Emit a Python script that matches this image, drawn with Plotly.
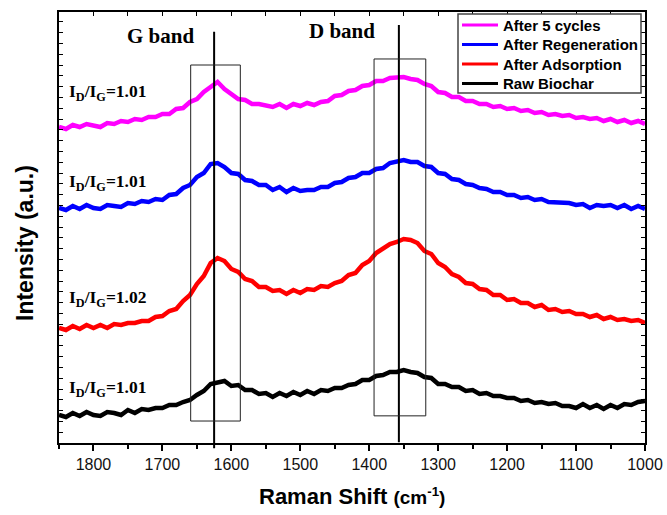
import plotly.graph_objects as go

# Raman shift grid (cm^-1), read every 10 cm^-1 from 1850 down to 1000
raman_shift = list(range(1850, 999, -10))

# Intensities (a.u.), offset stack as in the figure
raw_biochar = [28, 26, 30, 27, 31, 28, 27, 31, 30, 28,
               33, 30, 34, 33, 35, 35, 38, 38, 41, 43,
               48, 52, 59, 61, 62, 57, 58, 53, 53, 49,
               50, 46, 50, 47, 51, 48, 52, 49, 53, 52,
               55, 55, 58, 59, 63, 63, 67, 68, 71, 71,
               73, 71, 70, 66, 65, 59, 59, 56, 56, 52,
               53, 49, 50, 47, 47, 45, 45, 42, 43, 40,
               41, 39, 40, 37, 37, 35, 39, 35, 38, 34,
               38, 35, 39, 38, 41, 42]

after_adsorption = [115, 113, 117, 114, 118, 115, 118, 115, 119, 118,
                    120, 120, 122, 122, 126, 127, 132, 134, 142, 148,
                    159, 167, 180, 185, 182, 174, 171, 164, 162, 156,
                    156, 152, 153, 149, 153, 150, 154, 153, 157, 156,
                    160, 162, 168, 170, 178, 182, 190, 194, 199, 201,
                    204, 203, 200, 192, 189, 180, 176, 169, 166, 160,
                    159, 154, 153, 148, 148, 143, 144, 140, 140, 136,
                    138, 133, 134, 131, 132, 129, 129, 126, 128, 124,
                    126, 123, 124, 122, 123, 120]

after_regeneration = [235, 233, 237, 234, 238, 235, 234, 238, 237, 236,
                      240, 239, 242, 241, 244, 243, 248, 249, 255, 258,
                      266, 270, 279, 280, 276, 270, 269, 263, 262, 258,
                      258, 253, 256, 251, 255, 252, 253, 253, 256, 256,
                      260, 261, 265, 266, 270, 270, 274, 275, 280, 281,
                      283, 281, 281, 277, 276, 270, 269, 264, 263, 259,
                      258, 255, 254, 251, 251, 248, 248, 245, 246, 243,
                      244, 241, 241, 240, 240, 238, 239, 235, 238, 237,
                      238, 235, 238, 234, 237, 234]

after_5_cycles = [316, 314, 318, 316, 319, 317, 316, 320, 319, 322,
                  321, 324, 323, 326, 326, 329, 329, 334, 335, 341,
                  344, 351, 356, 361, 354, 349, 344, 343, 339, 339,
                  338, 336, 339, 335, 339, 337, 340, 338, 341, 342,
                  347, 348, 352, 353, 357, 358, 362, 362, 365, 365,
                  366, 364, 363, 359, 357, 351, 350, 346, 346, 342,
                  342, 339, 339, 336, 337, 334, 335, 332, 333, 330,
                  331, 328, 329, 327, 328, 325, 326, 324, 325, 322,
                  324, 321, 323, 320, 322, 319]

series_names = ["Raw Biochar", "After Adsorption", "After Regeneration", "After 5 cycles"]
series_colors = ["#000000", "#ff0000", "#0000ff", "#ff00ff"]
ratio_labels = ["1.01", "1.02", "1.01", "1.01"]

g_band_pos = 1625
d_band_pos = 1357
g_box = [1659, 1587]
d_box = [1393, 1318]

# plot-area geometry in pixels (for placing annotations)
L, R, T, B = 59, 645, 12, 443
W, H = R - L, B - T


def px(xp):
    return (xp - L) / W


def py(yp):
    return (B - yp) / H


fig = go.Figure()
for name, col, ys in zip(series_names, series_colors,
                         [raw_biochar, after_adsorption, after_regeneration, after_5_cycles]):
    fig.add_trace(go.Scatter(x=raman_shift, y=ys, mode="lines", name=name,
                             line=dict(color=col, width=4.5), showlegend=False))

# dummy trace for top axis ticks
fig.add_trace(go.Scatter(x=[1850, 1000], y=[None, None], xaxis="x2", showlegend=False,
                         hoverinfo="skip"))

fig.update_layout(
    width=667, height=515,
    margin=dict(l=L, r=667 - R, t=T, b=515 - B, autoexpand=False),
    paper_bgcolor="white", plot_bgcolor="white",
    showlegend=False,
    xaxis=dict(range=[1850, 1000], tickmode="linear", tick0=1000, dtick=100,
               ticks="outside", ticklen=6, tickwidth=1.5, tickcolor="black",
               minor=dict(dtick=50, ticks="outside", ticklen=4, tickcolor="black"),
               showline=True, linecolor="black", linewidth=1.5, mirror=True,
               showgrid=False, zeroline=False, automargin=False,
               tickfont=dict(family="Liberation Sans, Arial", size=16, color="#111")),
    xaxis2=dict(range=[1850, 1000], overlaying="x", side="top", tickmode="linear",
                tick0=1000, dtick=50, ticks="inside", ticklen=4, tickcolor="black",
                showticklabels=False, showgrid=False, zeroline=False, showline=False,
                automargin=False),
    yaxis=dict(range=[0, 431], tickmode="linear", tick0=0, dtick=10.8,
               ticks="inside", ticklen=4, tickcolor="black", automargin=False,
               showticklabels=False, showline=True, linecolor="black", linewidth=1.5,
               mirror="ticks", showgrid=False, zeroline=False),
)

shapes = []
shapes.append(dict(type="line", xref="x", yref="paper", x0=g_band_pos, x1=g_band_pos,
                   y0=0.954, y1=-0.012, line=dict(color="black", width=2)))
shapes.append(dict(type="line", xref="x", yref="paper", x0=d_band_pos, x1=d_band_pos,
                   y0=0.970, y1=0.002, line=dict(color="black", width=2)))
shapes.append(dict(type="rect", xref="x", yref="paper", x0=g_box[0], x1=g_box[1],
                   y0=0.051, y1=0.877, line=dict(color="#222", width=1)))
shapes.append(dict(type="rect", xref="x", yref="paper", x0=d_box[0], x1=d_box[1],
                   y0=0.063, y1=0.891, line=dict(color="#222", width=1)))

# legend box (drawn by hand to match the compact original legend)
shapes.append(dict(type="rect", xref="paper", yref="paper", x0=px(458), x1=px(641),
                   y0=py(93), y1=py(14), line=dict(color="#444", width=1.5),
                   fillcolor="white", layer="above"))
legend_rows = [25, 44.5, 64, 83.5]
legend_order = list(zip(series_names, series_colors))[::-1]
for (name, col), ry in zip(legend_order, legend_rows):
    shapes.append(dict(type="line", xref="paper", yref="paper", x0=px(462), x1=px(498),
                       y0=py(ry), y1=py(ry), line=dict(color=col, width=3), layer="above"))

fig.update_layout(shapes=shapes)

serif = "Liberation Serif, Times New Roman"
ann = []
ann.append(dict(text="<b>G band</b>", x=160.7, y=36, size=21))
ann.append(dict(text="<b>D band</b>", x=342, y=31, size=21))
ratio_y = [388, 298, 182, 93]
for lab, yy in zip(ratio_labels, ratio_y):
    ann.append(dict(text="<b>I<sub>D</sub>/I<sub>G</sub>=" + lab + "</b>", x=108, y=yy,
                    size=17.5))
annotations = []
for a in ann:
    annotations.append(dict(text=a["text"], xref="paper", yref="paper",
                            x=px(a["x"]), y=py(a["y"]),
                            xanchor="center", yanchor="middle", showarrow=False,
                            font=dict(family=serif, size=a["size"], color="black")))
for (name, col), ry in zip(legend_order, legend_rows):
    annotations.append(dict(text="<b>" + name + "</b>", xref="paper", yref="paper",
                            x=px(501), y=py(ry), xanchor="left", yanchor="middle",
                            showarrow=False,
                            font=dict(family="Liberation Sans, Arial", size=15,
                                      color="black")))
annotations.append(dict(text="<b>Raman Shift <span style='font-size:19px'>(cm<sup>-1</sup>)</span></b>",
                        xref="paper", yref="paper",
                        x=0.5, y=py(496), xanchor="center", yanchor="middle",
                        showarrow=False,
                        font=dict(family="Liberation Sans, Arial", size=22, color="black")))
annotations.append(dict(text="<b>Intensity (a.u.)</b>", xref="paper", yref="paper",
                        x=px(25), y=py(243), xanchor="center",
                        yanchor="middle", textangle=-90, showarrow=False,
                        font=dict(family="Liberation Sans, Arial", size=23, color="black")))
fig.update_layout(annotations=annotations)

fig.write_html("out.html")
